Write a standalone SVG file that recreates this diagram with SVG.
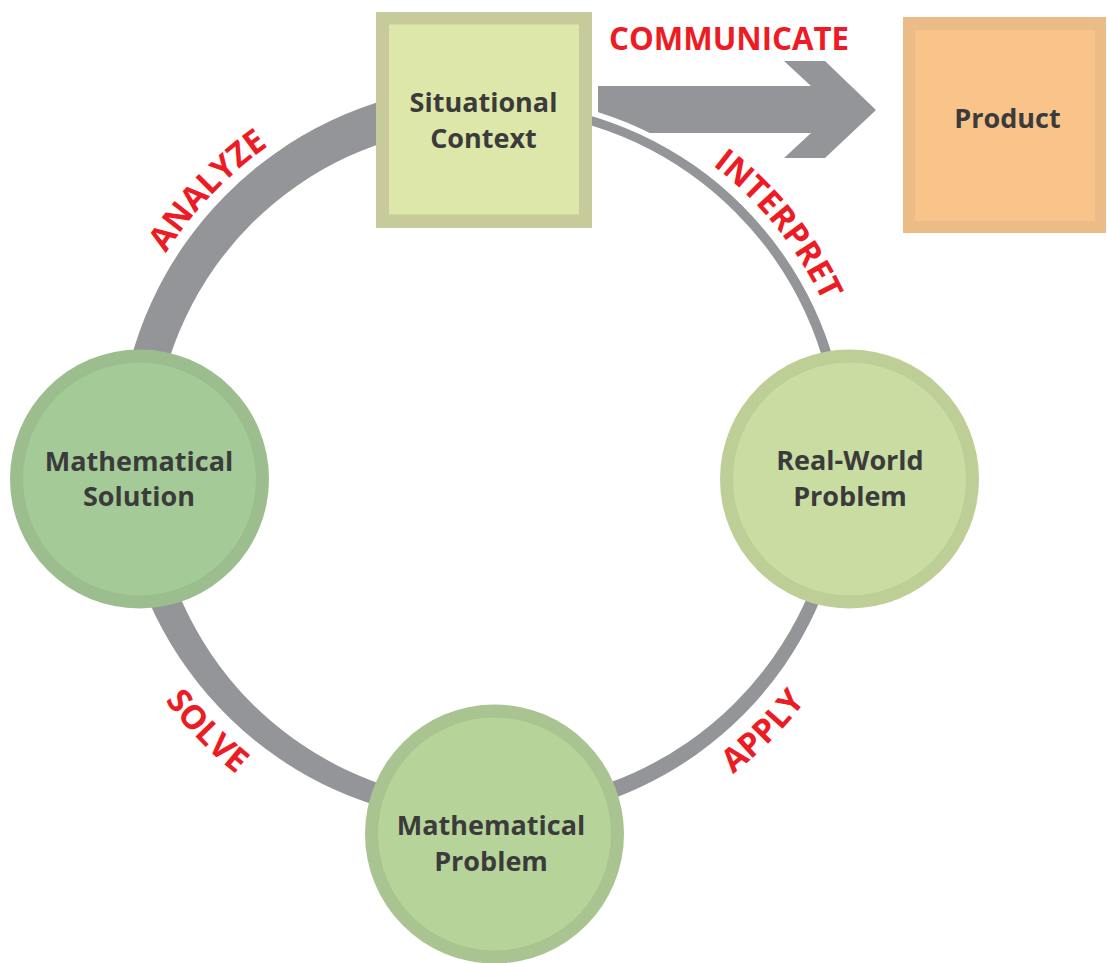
<svg xmlns="http://www.w3.org/2000/svg" width="1107" height="963" viewBox="0 0 1107 963">
<style>
.lbl{font-family:"Open Sans","Liberation Sans",sans-serif;font-weight:700;fill:#3b3b3b;text-anchor:middle;font-size:27px}
.red{font-family:"Open Sans","Liberation Sans",sans-serif;font-weight:700;fill:#ed1c24;font-size:33px;text-anchor:middle}
.gray{fill:#939598}
</style>
<defs>
<path id="pAnalyze" d="M106,459 A383,383 0 0 1 489,76"/>
<path id="pInterpret" d="M489,90 A369,369 0 0 1 858,459"/>
<path id="pSolve" d="M85,459 A404,404 0 0 0 489,863"/>
<path id="pApply" d="M489,857.5 A398.5,398.5 0 0 0 887.5,459"/>
</defs>
<g id="connectors">
<polygon id="communicate-arrow" class="gray" points="598,86 811,86 784,61 825,61 876,110 825,158 784,158 811,133 598,133"/>
<path id="cycle-ring" class="gray" stroke="#ffffff" stroke-width="11" stroke-linejoin="round" paint-order="stroke" d="M520.2,102.9 A365,365 0 0 1 581.7,113.2 A365,365 0 0 1 640.3,134.5 A365,365 0 0 1 694.4,165.6 A365,365 0 0 1 742.3,205.7 A365,365 0 0 1 782.5,253.5 A365,365 0 0 1 813.9,307.5 A365,365 0 0 1 835.4,366.2 A365,365 0 0 1 846.6,427.7 A365,365 0 0 1 846.9,490.3 A365,365 0 0 1 836.4,552.1 A365,365 0 0 1 815.3,611.2 A365,365 0 0 1 784.2,665.7 A365,365 0 0 1 744.1,714.1 A365,365 0 0 1 696.1,754.8 A365,365 0 0 1 641.7,786.5 A365,365 0 0 1 582.7,808.6 A365,365 0 0 1 520.6,820.3 A365,365 0 0 1 457.3,821.0 A365,365 0 0 1 394.8,810.7 A365,365 0 0 1 334.8,789.8 A365,365 0 0 1 279.2,758.6 A365,365 0 0 1 229.8,718.2 A365,365 0 0 1 188.0,669.8 A365,365 0 0 1 155.0,614.7 A365,365 0 0 1 132.3,554.6 A365,365 0 0 1 120.3,491.3 A365,365 0 0 1 119.4,426.7 A365,365 0 0 1 129.9,362.8 A365,365 0 0 1 151.7,301.7 A365,365 0 0 1 183.9,245.3 A365,365 0 0 1 225.4,195.4 A365,365 0 0 1 275.0,153.4 A365,365 0 0 1 331.2,120.6 A365,365 0 0 1 392.3,98.1 A365,365 0 0 1 456.4,86.4 L460.0,127.3 A345,345 0 0 0 402.7,137.0 A345,345 0 0 0 348.0,156.6 A345,345 0 0 0 297.5,185.4 A345,345 0 0 0 252.6,222.6 A345,345 0 0 0 215.0,267.1 A345,345 0 0 0 185.6,317.5 A345,345 0 0 0 165.2,372.2 A345,345 0 0 0 154.3,429.7 A345,345 0 0 0 153.4,488.4 A345,345 0 0 0 162.8,546.4 A345,345 0 0 0 182.2,602.1 A345,345 0 0 0 210.9,653.7 A345,345 0 0 0 248.2,699.8 A345,345 0 0 0 293.2,738.6 A345,345 0 0 0 344.4,769.0 A345,345 0 0 0 400.3,790.2 A345,345 0 0 0 459.1,801.3 A345,345 0 0 0 519.0,802.0 A345,345 0 0 0 578.3,792.3 A345,345 0 0 0 635.1,772.2 A345,345 0 0 0 687.4,742.4 A345,345 0 0 0 733.9,703.9 A345,345 0 0 0 773.0,657.8 A345,345 0 0 0 803.4,605.6 A345,345 0 0 0 824.5,548.9 A345,345 0 0 0 835.4,489.3 A345,345 0 0 0 835.7,428.7 A345,345 0 0 0 825.5,368.8 A345,345 0 0 0 804.9,311.7 A345,345 0 0 0 774.6,259.0 A345,345 0 0 0 735.6,212.4 A345,345 0 0 0 689.1,173.2 A345,345 0 0 0 636.5,142.7 A345,345 0 0 0 579.3,121.9 A345,345 0 0 0 519.5,110.8 Z"/>
<text class="red" x="729" y="50" textLength="240" lengthAdjust="spacingAndGlyphs">COMMUNICATE</text>
<text class="red"><textPath href="#pAnalyze" startOffset="48.5%">ANALYZE</textPath></text>
<text class="red"><textPath href="#pInterpret" startOffset="56.7%">INTERPRET</textPath></text>
<text class="red"><textPath href="#pSolve" startOffset="48.9%">SOLVE</textPath></text>
<text class="red"><textPath href="#pApply" startOffset="50.2%">APPLY</textPath></text>
</g>
<g id="node-situational-context">
<rect x="376" y="12" width="216" height="216" fill="#c7cb9c"/>
<rect x="389" y="24.5" width="190" height="190" fill="#dee7aa"/>
<text class="lbl" x="483.5" y="112" font-size="28">Situational</text>
<text class="lbl" x="483.5" y="148" font-size="28">Context</text>
</g>
<g id="node-product">
<rect x="903" y="17" width="203" height="216" fill="#ebbb88"/>
<rect x="915" y="30" width="180" height="191" fill="#f8c48a"/>
<text class="lbl" x="1007.5" y="128" font-size="28">Product</text>
</g>
<g id="node-real-world-problem">
<circle cx="849.5" cy="479" r="129.5" fill="#bdcf96"/>
<circle cx="849.5" cy="479" r="117" fill="#c9dda2" stroke="#b9cd92" stroke-width="0.8"/>
<text class="lbl" x="850" y="470">Real-World</text>
<text class="lbl" x="850" y="506">Problem</text>
</g>
<g id="node-mathematical-problem">
<circle cx="494.5" cy="834" r="129.5" fill="#a9c490"/>
<circle cx="494.5" cy="834" r="117" fill="#b6d49a" stroke="#a6c28c" stroke-width="0.8"/>
<text class="lbl" x="491" y="835">Mathematical</text>
<text class="lbl" x="491" y="871">Problem</text>
</g>
<g id="node-mathematical-solution">
<circle cx="139.5" cy="479" r="129.5" fill="#9cbd8e"/>
<circle cx="139.5" cy="479" r="117" fill="#a4cb97" stroke="#98bb8a" stroke-width="0.8"/>
<text class="lbl" x="139" y="471">Mathematical</text>
<text class="lbl" x="139" y="506">Solution</text>
</g>
</svg>
